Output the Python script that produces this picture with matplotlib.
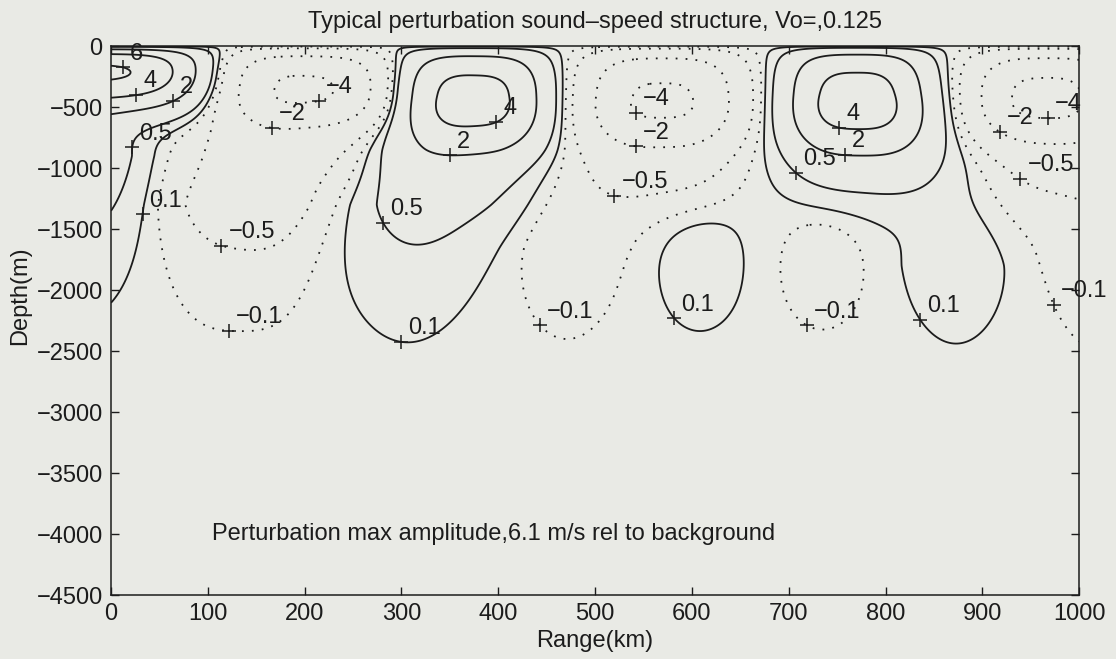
import numpy as np
import matplotlib
matplotlib.use("Agg")
import matplotlib.pyplot as plt

plt.rcParams["font.family"] = ["Liberation Sans", "DejaVu Sans"]

INK = "#1c1c1c"
PAPER = "#e9eae5"
FS = 17

# eddy pieces read off the section: range (km), depth (m), amplitude (m/s),
# half widths and shape exponents in range / depth
eddy_x = np.array([0, -25, 203, 190, 133, 376, 360, 305, 570, 565, 470, 608, 735, 770, 780, 873, 965, 985, 1025], float)
eddy_z = np.array([-190, -900, -330, -800, -1300, -410, -850, -1300, -400, -850, -1650, -1750, -1800, -390, -800, -1800, -400, -850, -1800], float)
eddy_amp = np.array([6.0, 1.2, -3.9, -0.8, -0.75, 4.2, 1.0, 0.55, -3.9, -1.0, -0.35, 0.3, -0.3, 4.3, 1.2, 0.3, -4.2, -0.9, -0.35])
eddy_sx = np.array([88, 50, 77, 80, 75, 68, 80, 75, 75, 75, 58, 46, 44, 68, 80, 55, 72, 75, 55], float)
eddy_px = np.array([3, 2, 3, 3, 3, 3, 3, 2, 3, 3, 2, 2, 2, 3, 3, 2, 3, 3, 2], float)
eddy_sz = np.array([310, 650, 320, 500, 600, 400, 500, 740, 380, 450, 650, 560, 500, 420, 430, 600, 360, 450, 600], float)
eddy_pz = np.array([2.2, 1.3, 2.5, 1.5, 1.3, 2.5, 1.5, 1.3, 2.5, 2, 1.5, 2, 2, 2.5, 2, 1.5, 2.5, 1.5, 1.5])
SURF_H = 50.0

levels = [-4, -2, -0.5, -0.1, 0.1, 0.5, 2, 4, 6]

# where the inline labels sit
label_lev = [6, 4, 2, 0.5, 0.1, -2, -4, -0.5, -0.1, 0.5, 0.1, 2, 4, -0.1, -4, -2, -0.5,
             0.1, -0.1, 0.5, 2, 4, 0.1, -2, -4, -0.5, -0.1]
label_x = [12, 25, 64, 32, 33, 167, 216, 115, 123, 275, 300, 350, 395, 440, 546, 543, 524,
           583, 720, 701, 758, 755, 836, 913, 968, 939, 973]
label_z = [-200, -360, -470, -840, -1385, -630, -500, -1615, -2330, -1480, -2410, -705, -585,
           -2310, -510, -800, -1100, -2230, -2270, -1100, -910, -565, -2245, -770, -580, -1085, -2120]

rng_km = np.arange(0, 1000.1, 2.0)
dep_m = np.arange(0, -4500.1, -10.0)
X, Z = np.meshgrid(rng_km, dep_m)
F = np.zeros_like(X)
for x0, z0, a, sx, px, sz, pz in zip(eddy_x, eddy_z, eddy_amp, eddy_sx, eddy_px, eddy_sz, eddy_pz):
    F += a * np.exp(-np.abs((X - x0) / sx) ** px - np.abs((Z - z0) / sz) ** pz)
F *= 1 - np.exp(Z / SURF_H)

fig = plt.figure(figsize=(11.16, 6.59), dpi=100, facecolor=PAPER)
ax = fig.add_axes([0.0995, 0.097, 0.8675, 0.833], facecolor=PAPER)

styles = [(0, (1, 4.5)) if lv < 0 else "solid" for lv in levels]
cs = ax.contour(X, Z, F, levels=levels, colors=INK, linewidths=1.3, linestyles=styles)


def fmt(v):
    s = f"{abs(v):g}"
    return ("\u2212" + s) if v < 0 else s


# matlab-style clabel: a "+" on the line, value up and to the right
for lv, lx, lz in zip(label_lev, label_x, label_z):
    segs = [s for s in cs.allsegs[levels.index(lv)] if len(s)]
    if not segs:
        continue
    pts = np.vstack(segs)
    d = ((pts[:, 0] - lx) * 0.968) ** 2 + ((pts[:, 1] - lz) * 0.122) ** 2
    px_, pz_ = pts[np.argmin(d)]
    ax.plot(px_, pz_, "+", ms=10, mew=1.1, color=INK, clip_on=False)
    ax.annotate(fmt(lv), (px_, pz_), xytext=(5, 2), textcoords="offset points",
                ha="left", va="bottom", fontsize=FS, color=INK, annotation_clip=False)

ax.text(104, -4000, "Perturbation max amplitude,6.1 m/s rel to background",
        fontsize=FS, va="center", ha="left", color=INK)

ax.set_xlim(0, 1000)
ax.set_ylim(-4500, 0)
ax.set_xticks(np.arange(0, 1001, 100))
ax.set_yticks(np.arange(-4500, 1, 500))
ax.tick_params(direction="in", length=6, width=1, top=True, right=True,
               labelsize=FS, colors=INK, pad=6)
for s in ax.spines.values():
    s.set_color(INK)
    s.set_linewidth(1.1)

ax.set_title("Typical perturbation sound\u2013speed structure, Vo=,0.125", fontsize=FS,
             color=INK, pad=13)
ax.set_xlabel("Range(km)", fontsize=FS, color=INK)
ax.set_ylabel("Depth(m)", fontsize=FS, color=INK)
ax.xaxis.set_label_coords(0.5, -0.083)
ax.xaxis.label.set_va("center")
ax.yaxis.set_label_coords(-0.094, 0.545)
ax.yaxis.label.set_va("center")

fig.savefig("out.png", dpi=100, facecolor=PAPER)
